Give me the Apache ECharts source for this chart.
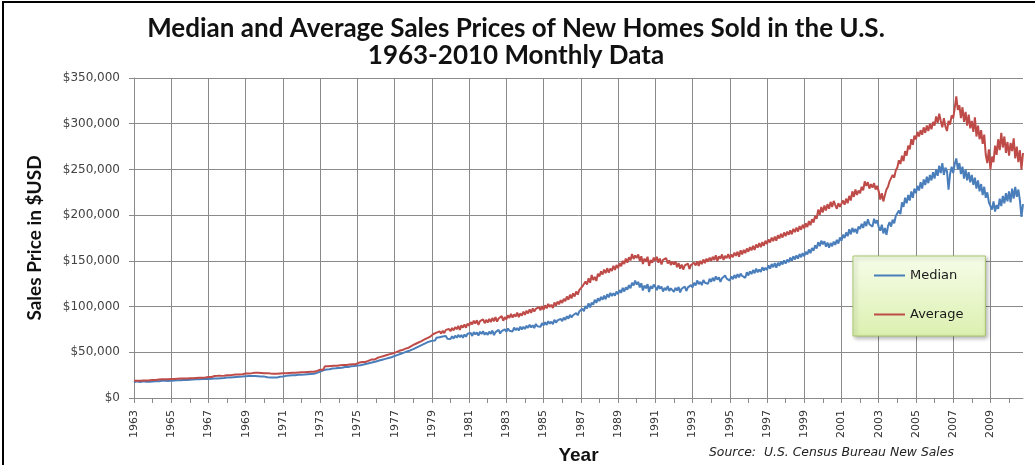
<!DOCTYPE html>
<html>
<head>
<meta charset="utf-8">
<script src="https://cdn.jsdelivr.net/npm/echarts@6/dist/echarts.min.js"></script>
<style>
  html, body { margin: 0; padding: 0; background: #fff; }
  #chart { width: 1035px; height: 465px; }
</style>
</head>
<body>
<div id="chart"></div>
<script>
// monthly values, thousands of dollars, Jan 1963 .. Oct 2010 (one row per year)
var median = [
  17.2,17.7,18.2,18.2,17.5,18.0,18.4,17.9,17.7,18.4,17.9,18.3,
  18.0,18.2,18.4,18.5,18.3,18.6,18.9,18.5,18.8,19.0,18.7,19.1,
  19.0,19.3,19.2,19.6,19.4,19.8,19.5,19.9,19.7,20.0,19.8,20.1,
  20.0,20.3,20.1,20.6,20.4,20.8,20.5,21.0,20.7,21.1,20.9,21.2,
  20.8,21.2,21.0,21.5,21.3,21.8,21.4,22.0,21.7,22.2,21.9,22.4,
  22.3,22.7,22.5,23.0,22.8,23.4,23.1,23.6,23.3,23.8,23.5,24.0,
  23.8,24.2,24.0,24.5,24.2,24.6,24.0,24.4,23.8,24.1,23.6,23.9,
  23.4,23.0,22.6,22.2,22.5,22.0,22.4,22.8,22.3,23.0,23.3,23.6,
  23.5,23.9,24.2,24.0,24.5,24.3,24.8,24.6,25.0,24.8,25.3,25.1,
  25.4,25.8,25.6,26.1,26.0,26.5,26.3,26.8,26.6,27.2,27.5,27.9,
  28.8,29.5,30.2,30.8,31.2,31.6,31.4,31.9,32.2,32.0,32.5,32.8,
  32.9,33.3,33.1,33.6,33.9,34.2,34.0,34.5,34.8,35.1,34.9,35.4,
  35.6,36.0,35.8,36.3,36.6,37.0,37.4,37.8,38.3,38.8,39.2,39.7,
  40.0,40.6,41.0,41.5,41.9,42.4,42.8,43.3,43.7,44.2,44.6,45.0,
  46.0,46.6,47.2,47.8,48.4,49.0,49.6,50.2,50.8,51.4,52.0,52.8,
  53.5,54.4,55.2,56.0,56.8,57.6,58.4,59.2,60.0,60.8,61.6,62.4,
  62.5,64.5,63.0,65.8,64.2,66.5,64.8,67.2,65.5,67.8,64.9,66.8,
  64.5,67.5,65.0,68.2,66.0,69.0,66.4,68.8,65.8,69.5,67.0,70.2,
  68.5,71.0,67.8,72.2,69.5,71.8,68.2,72.5,70.0,73.0,69.2,71.5,
  69.0,72.5,70.2,73.8,68.8,72.0,71.0,74.5,70.5,73.2,72.0,75.0,
  72.5,76.0,73.5,75.2,72.8,77.0,74.2,76.5,73.8,78.0,75.0,77.8,
  75.5,79.0,76.8,80.2,77.2,79.5,76.5,81.0,78.4,80.5,77.8,82.0,
  79.5,82.8,80.0,84.0,81.2,83.5,80.8,85.5,82.5,84.8,83.0,86.5,
  84.0,88.0,85.5,89.5,86.8,91.0,88.2,90.5,89.0,93.0,90.5,94.5,
  93.5,97.5,95.0,100.5,98.0,103.5,99.0,104.5,102.0,107.5,104.0,109.0,
  106.0,110.5,107.5,112.0,108.0,113.5,110.0,115.0,111.5,114.5,112.0,116.5,
  113.5,118.0,115.0,120.5,116.5,121.0,118.5,123.5,120.0,126.0,123.0,128.5,
  124.0,127.0,121.0,125.5,117.5,123.0,120.0,124.5,116.0,122.5,119.5,124.0,
  121.5,118.0,123.0,119.5,122.0,116.5,120.5,118.0,122.5,117.0,120.0,118.5,
  116.0,120.5,117.5,121.5,115.5,119.5,118.0,122.0,117.0,121.0,119.5,123.5,
  121.0,126.0,123.0,128.5,124.5,127.0,123.5,129.0,126.0,128.0,125.0,130.5,
  127.0,131.5,128.0,133.0,129.5,132.0,127.0,131.0,129.0,134.0,130.5,132.5,
  128.5,133.0,130.0,134.5,131.0,135.5,132.0,136.0,133.5,135.0,131.5,137.5,
  134.0,138.5,135.5,140.0,136.5,141.5,137.5,140.5,138.0,143.0,139.5,142.5,
  140.0,145.0,141.5,146.5,143.0,147.5,142.5,148.0,144.5,149.5,146.0,150.5,
  147.0,151.5,148.5,153.5,150.0,155.0,151.5,156.0,152.5,157.5,154.0,158.5,
  155.0,160.0,157.0,162.5,158.5,164.0,161.0,167.0,163.5,170.5,166.0,172.0,
  168.0,171.5,165.5,170.0,164.5,169.5,166.0,171.0,167.5,173.0,169.0,175.5,
  172.0,178.5,175.0,181.0,177.0,184.5,179.0,186.0,181.5,185.0,180.0,187.5,
  185.0,190.5,186.0,193.0,188.0,195.5,190.0,192.0,187.5,196.0,191.0,194.5,
  187.0,183.0,189.5,180.0,186.0,178.5,188.0,192.5,187.5,195.0,191.0,199.0,
  197.0,205.0,201.0,214.0,209.0,219.0,213.0,222.0,216.0,226.0,219.0,229.0,
  224.0,232.0,227.0,236.0,229.0,239.0,233.0,242.0,235.0,244.0,238.0,247.0,
  240.0,250.0,243.0,254.0,246.0,257.0,244.0,252.0,248.0,228.0,245.0,253.0,
  246.0,256.0,262.0,250.0,257.0,245.0,253.0,240.0,250.0,238.0,247.0,236.0,
  244.0,233.0,241.0,229.0,238.0,226.0,234.0,222.0,231.0,219.0,225.0,214.0,
  212.0,206.0,215.0,204.0,211.0,207.0,218.0,210.0,221.0,213.0,224.0,215.0,
  226.0,214.0,229.0,218.0,231.0,220.0,228.0,216.0,198.0,212.0
];

var average = [
  18.9,18.9,18.9,19.0,19.0,19.0,19.1,19.1,19.1,19.3,19.3,19.3,
  19.8,19.8,19.8,20.2,20.2,20.2,20.4,20.4,20.4,20.6,20.6,20.6,
  20.9,20.9,20.9,21.1,21.1,21.1,21.2,21.2,21.2,21.4,21.4,21.4,
  21.7,21.7,21.7,22.0,22.0,22.0,22.2,22.2,22.2,22.5,22.5,22.5,
  22.9,22.9,22.9,24.0,24.0,24.0,24.2,24.2,24.2,24.4,24.4,24.4,
  24.8,24.8,24.8,25.3,25.3,25.3,25.6,25.6,25.6,25.9,25.9,25.9,
  26.9,26.9,26.9,27.2,27.2,27.2,27.6,27.6,27.6,27.4,27.4,27.4,
  27.2,27.2,27.2,26.8,26.8,26.8,26.6,26.6,26.6,26.9,26.9,26.9,
  27.2,27.2,27.2,27.4,27.4,27.4,27.6,27.6,27.6,27.9,27.9,27.9,
  28.2,28.2,28.2,28.5,28.5,28.5,28.8,28.8,28.8,29.6,29.6,29.6,
  31.0,31.0,31.0,34.6,34.6,34.6,35.0,35.0,35.0,35.4,35.4,35.4,
  35.8,35.8,35.8,36.2,36.2,36.2,36.6,36.6,36.6,37.0,37.0,37.0,
  38.6,38.6,38.6,39.4,39.4,39.4,40.6,40.6,40.6,42.0,42.0,42.0,
  43.5,44.0,44.4,45.0,45.4,46.0,46.4,47.0,47.4,48.0,48.4,49.0,
  49.6,50.2,51.0,51.6,51.2,52.4,53.2,54.0,53.6,55.0,55.8,57.0,
  58.0,58.8,59.6,60.4,61.2,62.0,63.0,63.8,64.6,65.5,66.4,67.2,
  67.5,70.0,68.5,71.5,69.8,72.8,70.5,73.5,71.0,74.5,72.5,75.5,
  73.0,76.5,74.0,77.5,75.2,78.8,74.5,79.5,77.0,80.5,76.8,81.5,
  79.0,83.0,80.5,84.5,81.5,85.0,80.0,84.0,82.5,86.0,81.8,85.5,
  82.5,86.5,83.0,87.5,84.0,88.5,83.5,87.0,85.5,89.5,84.5,88.5,
  86.0,90.5,87.5,92.0,88.0,91.5,89.0,93.5,88.5,92.5,90.0,94.5,
  91.0,95.5,92.5,97.0,93.0,98.0,94.5,97.5,95.5,99.5,96.0,100.5,
  96.5,101.5,98.0,103.0,99.5,102.0,98.5,104.5,101.0,105.5,102.5,107.0,
  104.0,108.5,106.0,111.0,107.5,113.0,109.0,114.5,111.0,116.5,113.0,118.0,
  117.0,122.0,120.0,127.5,124.0,131.0,126.0,134.5,129.0,132.5,128.0,136.0,
  133.0,138.5,135.0,140.5,136.5,142.0,137.0,141.5,139.0,144.5,140.0,145.5,
  142.0,147.5,144.0,150.0,146.5,152.5,148.0,154.0,150.5,157.5,152.0,156.0,
  153.0,157.0,150.0,155.0,146.5,152.5,149.0,154.5,144.5,151.0,148.0,153.5,
  150.0,154.5,148.0,152.5,146.0,151.0,149.5,153.0,147.0,150.5,145.5,149.0,
  146.0,149.5,143.0,147.5,141.5,146.0,140.5,145.0,143.0,147.0,141.0,145.5,
  143.5,148.0,145.0,149.5,144.5,150.0,146.5,151.5,147.5,152.5,149.0,153.5,
  150.0,154.5,151.0,156.0,149.5,155.0,152.5,157.0,151.0,155.5,153.0,157.5,
  152.5,157.0,154.0,159.0,155.5,160.0,154.5,161.5,157.0,162.0,158.5,163.5,
  160.0,165.0,161.5,166.5,162.0,168.0,164.5,169.5,165.0,170.5,166.5,172.0,
  168.5,173.5,170.0,175.5,171.5,176.5,172.0,178.0,174.5,179.5,175.5,181.0,
  177.0,182.0,178.5,183.5,179.0,185.0,181.5,186.5,182.0,188.0,184.0,189.5,
  185.5,191.0,187.0,193.5,189.0,195.5,192.0,199.0,196.0,206.0,200.5,209.0,
  203.0,210.5,205.0,212.0,207.0,214.5,209.0,215.5,211.0,207.0,213.0,209.0,
  210.0,216.0,211.5,218.0,213.0,221.0,216.0,226.0,220.0,228.0,222.0,227.0,
  224.0,231.0,227.0,237.0,232.0,236.0,229.0,234.0,230.0,235.0,228.0,232.0,
  226.0,217.0,224.0,215.0,222.0,228.0,231.0,237.0,235.0,244.0,241.0,249.0,
  252.0,260.0,256.0,265.0,259.0,270.0,265.0,276.0,272.0,283.0,277.0,287.0,
  283.0,291.0,286.0,293.0,288.0,296.0,290.0,298.0,292.0,300.0,294.0,302.0,
  298.0,308.0,301.0,311.0,303.0,296.0,306.0,297.0,292.0,303.0,299.0,309.0,
  306.0,317.0,330.0,315.0,320.0,306.0,318.0,302.0,313.0,298.0,310.0,295.0,
  303.0,291.0,307.0,286.0,298.0,283.0,293.0,278.0,288.0,266.0,257.0,272.0,
  250.0,264.0,258.0,276.0,266.0,283.0,271.0,290.0,274.0,286.0,268.0,280.0,
  265.0,279.0,270.0,284.0,262.0,275.0,258.0,271.0,250.0,268.0
];

var startYear = 1963;
var months = [];
for (var i = 0; i < median.length; i++) {
  var y = startYear + Math.floor(i / 12);
  var m = (i % 12) + 1;
  months.push(y + '-' + (m < 10 ? '0' + m : m));
}

var gray = '#8a8a8a';
var chart = echarts.init(document.getElementById('chart'));
var option = {
  animation: false,
  title: [{
    text: 'Median and Average Sales Prices of New Homes Sold in the U.S.',
    left: 511, top: 11, textAlign: 'center',
    textStyle: { fontFamily: 'Lato', fontWeight: 'bold', fontSize: 26, color: '#111' }
  }, {
    text: '1963-2010 Monthly Data',
    left: 511, top: 38, textAlign: 'center',
    textStyle: { fontFamily: 'Lato', fontWeight: 'bold', fontSize: 26, color: '#111' }
  }],
  legend: {
    orient: 'vertical',
    left: 853, top: 256,
    padding: [13, 22, 15, 21],
    itemGap: 26,
    itemWidth: 31, itemHeight: 2,
    icon: 'rect',
    textStyle: { fontFamily: 'DejaVu Sans', fontSize: 13, color: '#1a1a1a' },
    backgroundColor: new echarts.graphic.LinearGradient(0, 0, 0, 1, [
      { offset: 0, color: '#f6fde9' },
      { offset: 1, color: '#dcf0b0' }
    ]),
    borderColor: '#a9c76e', borderWidth: 1,
    shadowBlur: 4, shadowColor: 'rgba(0,0,0,0.3)', shadowOffsetX: 2, shadowOffsetY: 2,
    data: ['Median', 'Average']
  },
  grid: { left: 134, right: 12, top: 78, bottom: 67, outerBoundsMode: 'none' },
  xAxis: {
    type: 'category',
    data: months,
    boundaryGap: false,
    name: 'Year',
    nameLocation: 'middle',
    nameGap: 38,
    nameTextStyle: { fontFamily: 'Liberation Sans', fontWeight: 'bold', fontSize: 19, color: '#111' },
    axisLine: { lineStyle: { color: gray } },
    axisTick: { length: 5, lineStyle: { color: gray }, interval: function (idx) { return idx % 12 === 0; } },
    splitLine: { show: true, lineStyle: { color: gray }, interval: function (idx) { return idx % 24 === 0; } },
    axisLabel: {
      rotate: 90,
      margin: 12,
      interval: function (idx) { return idx % 24 === 0; },
      formatter: function (v) { return v.slice(0, 4); },
      fontFamily: 'DejaVu Sans', fontSize: 11, color: '#333'
    }
  },
  yAxis: {
    type: 'value',
    min: 0, max: 350, interval: 50,
    name: 'Sales Price in $USD',
    nameLocation: 'middle',
    nameGap: 90,
    nameTextStyle: { fontFamily: 'Lato', fontWeight: 'bold', fontSize: 19, color: '#111' },
    axisLine: { show: true, lineStyle: { color: gray } },
    axisTick: { show: true, length: 5, lineStyle: { color: gray } },
    splitLine: { lineStyle: { color: gray } },
    axisLabel: {
      margin: 14,
      formatter: function (v) { return '$' + (v === 0 ? '0' : v + ',000'); },
      fontFamily: 'DejaVu Sans', fontSize: 12, color: '#444'
    }
  },
  graphic: [{
    type: 'rect',
    shape: { x: 3, y: 2, width: 1200, height: 700 },
    style: { fill: 'none', stroke: '#000', lineWidth: 2 },
    silent: true
  }, {
    type: 'text',
    left: 709, top: 447,
    style: {
      text: 'Source:  U.S. Census Bureau New Sales',
      fontFamily: 'DejaVu Sans', fontStyle: 'italic', fontSize: 12.4, fill: '#222'
    }
  }],
  series: [{
    name: 'Median', type: 'line', data: median, symbol: 'none',
    lineStyle: { width: 2, color: '#4a7ebb' }, itemStyle: { color: '#4a7ebb' }
  }, {
    name: 'Average', type: 'line', data: average, symbol: 'none',
    lineStyle: { width: 2, color: '#be4b48' }, itemStyle: { color: '#be4b48' }
  }]
};
chart.setOption(option);
</script>
</body>
</html>
